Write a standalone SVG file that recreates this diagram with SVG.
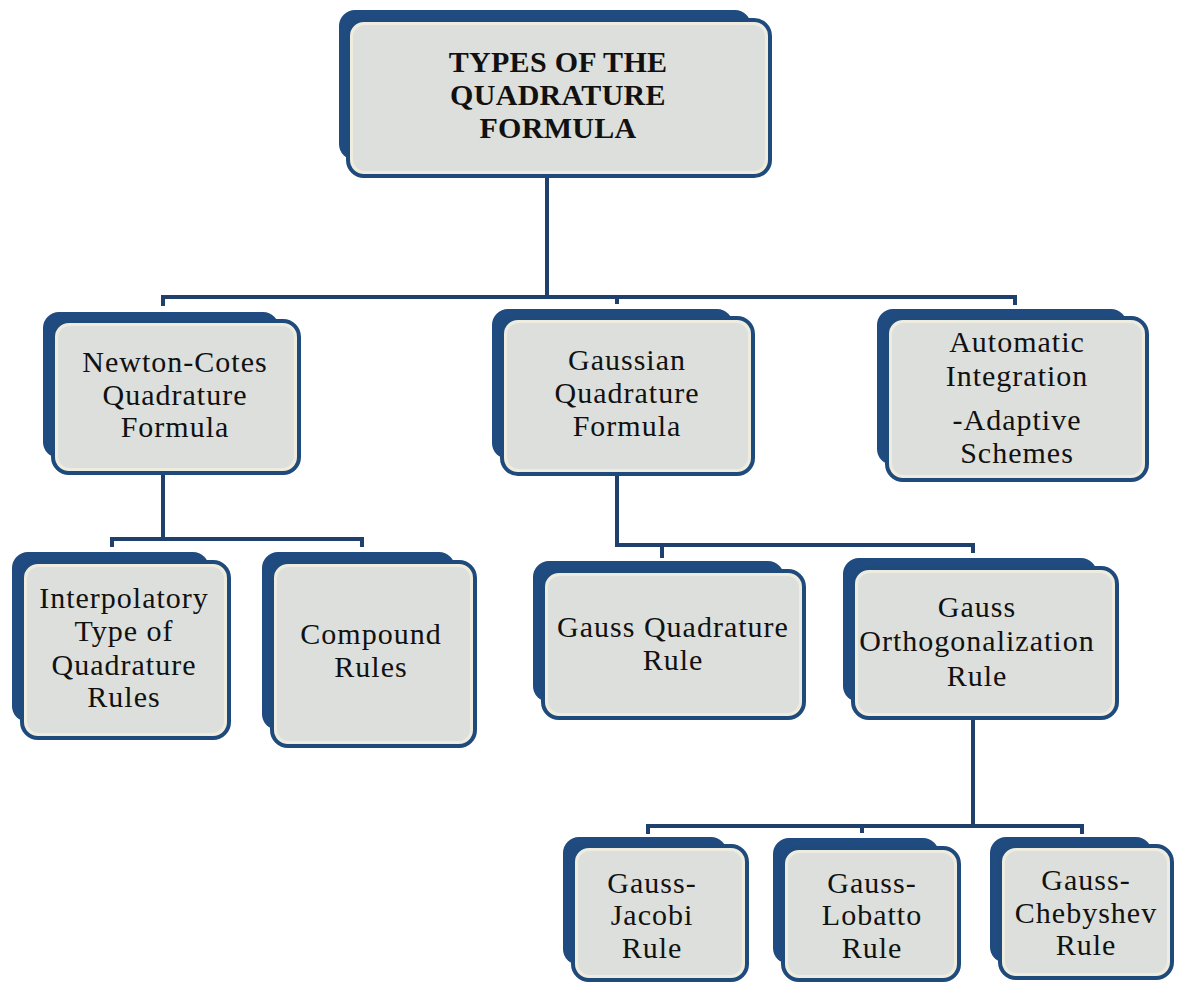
<svg xmlns="http://www.w3.org/2000/svg" width="1189" height="987" viewBox="0 0 1189 987">
<style>
.back{fill:#1f4b80}
.front{fill:#eeecdf;stroke:#1f4a7c;stroke-width:4}
.inner{fill:#dcdfdb}
.lbl{font-family:"Liberation Serif","Times New Roman",serif;font-size:30px;fill:#111;text-anchor:middle;letter-spacing:1px}
.ttl{font-family:"Liberation Serif","Times New Roman",serif;font-size:30px;font-weight:bold;fill:#111;text-anchor:middle;letter-spacing:0.3px}
.conn path{fill:none;stroke:#1f3f6c;stroke-width:4}
</style>
<rect width="1189" height="987" fill="#ffffff"/>
<g class="conn" id="connectors">
<path d="M547 176 V297"/>
<path d="M163 306 V297 H1015 V305"/>
<path d="M617 297 V304"/>
<path d="M163 473 V539"/>
<path d="M112 547 V539 H362 V547"/>
<path d="M617 474 V545 H973 V553"/>
<path d="M662 545 V558"/>
<path d="M973 718 V826"/>
<path d="M648 834 V826 H1082 V834"/>
<path d="M862 826 V833"/>
</g>
<g id="n-top">
<rect class="back" x="339" y="10" width="412" height="150" rx="16"/>
<rect class="front" x="348" y="20" width="422" height="156" rx="16"/>
<rect class="inner" x="353" y="25" width="412" height="146" rx="12"/>
<text class="ttl"><tspan x="558" y="72">TYPES OF THE</tspan><tspan x="558" y="105">QUADRATURE</tspan><tspan x="558" y="138">FORMULA</tspan></text>
</g>
<g id="n-newton">
<rect class="back" x="43" y="312" width="236" height="146" rx="16"/>
<rect class="front" x="53" y="321" width="246" height="152" rx="16"/>
<rect class="inner" x="58" y="326" width="236" height="142" rx="12"/>
<text class="lbl"><tspan x="175" y="372">Newton-Cotes</tspan><tspan x="175" y="405">Quadrature</tspan><tspan x="175" y="437">Formula</tspan></text>
</g>
<g id="n-gaussian">
<rect class="back" x="492" y="309" width="241" height="150" rx="16"/>
<rect class="front" x="502" y="318" width="251" height="156" rx="16"/>
<rect class="inner" x="507" y="323" width="241" height="146" rx="12"/>
<text class="lbl"><tspan x="627" y="370">Gaussian</tspan><tspan x="627" y="403">Quadrature</tspan><tspan x="627" y="436">Formula</tspan></text>
</g>
<g id="n-automatic">
<rect class="back" x="877" y="309" width="250" height="156" rx="16"/>
<rect class="front" x="887" y="318" width="260" height="162" rx="16"/>
<rect class="inner" x="892" y="323" width="250" height="152" rx="12"/>
<text class="lbl"><tspan x="1017" y="352">Automatic</tspan><tspan x="1017" y="386">Integration</tspan><tspan x="1017" y="430">-Adaptive</tspan><tspan x="1017" y="463">Schemes</tspan></text>
</g>
<g id="n-interpolatory">
<rect class="back" x="12" y="552" width="197" height="170" rx="16"/>
<rect class="front" x="22" y="562" width="207" height="176" rx="16"/>
<rect class="inner" x="27" y="567" width="197" height="166" rx="12"/>
<text class="lbl"><tspan x="124" y="608">Interpolatory</tspan><tspan x="124" y="641">Type of</tspan><tspan x="124" y="675">Quadrature</tspan><tspan x="124" y="707">Rules</tspan></text>
</g>
<g id="n-compound">
<rect class="back" x="262" y="552" width="193" height="178" rx="16"/>
<rect class="front" x="272" y="562" width="203" height="184" rx="16"/>
<rect class="inner" x="277" y="567" width="193" height="174" rx="12"/>
<text class="lbl"><tspan x="371" y="644">Compound</tspan><tspan x="371" y="677">Rules</tspan></text>
</g>
<g id="n-gaussrule">
<rect class="back" x="533" y="561" width="251" height="141" rx="16"/>
<rect class="front" x="543" y="571" width="261" height="147" rx="16"/>
<rect class="inner" x="548" y="576" width="251" height="137" rx="12"/>
<text class="lbl"><tspan x="673" y="637">Gauss Quadrature</tspan><tspan x="673" y="670">Rule</tspan></text>
</g>
<g id="n-orthogonalization">
<rect class="back" x="843" y="558" width="254" height="144" rx="16"/>
<rect class="front" x="853" y="568" width="264" height="150" rx="16"/>
<rect class="inner" x="858" y="573" width="254" height="140" rx="12"/>
<text class="lbl"><tspan x="977" y="617">Gauss</tspan><tspan x="977" y="651">Orthogonalization</tspan><tspan x="977" y="686">Rule</tspan></text>
</g>
<g id="n-jacobi">
<rect class="back" x="563" y="837" width="164" height="128" rx="16"/>
<rect class="front" x="573" y="846" width="174" height="134" rx="16"/>
<rect class="inner" x="578" y="851" width="164" height="124" rx="12"/>
<text class="lbl"><tspan x="652" y="893">Gauss-</tspan><tspan x="652" y="925">Jacobi</tspan><tspan x="652" y="958">Rule</tspan></text>
</g>
<g id="n-lobatto">
<rect class="back" x="773" y="838" width="166" height="126" rx="16"/>
<rect class="front" x="783" y="848" width="176" height="132" rx="16"/>
<rect class="inner" x="788" y="853" width="166" height="122" rx="12"/>
<text class="lbl"><tspan x="872" y="893">Gauss-</tspan><tspan x="872" y="925">Lobatto</tspan><tspan x="872" y="958">Rule</tspan></text>
</g>
<g id="n-chebyshev">
<rect class="back" x="990" y="837" width="162" height="126" rx="16"/>
<rect class="front" x="1000" y="846" width="172" height="132" rx="16"/>
<rect class="inner" x="1005" y="851" width="162" height="122" rx="12"/>
<text class="lbl"><tspan x="1086" y="890">Gauss-</tspan><tspan x="1086" y="923">Chebyshev</tspan><tspan x="1086" y="955">Rule</tspan></text>
</g>
</svg>
